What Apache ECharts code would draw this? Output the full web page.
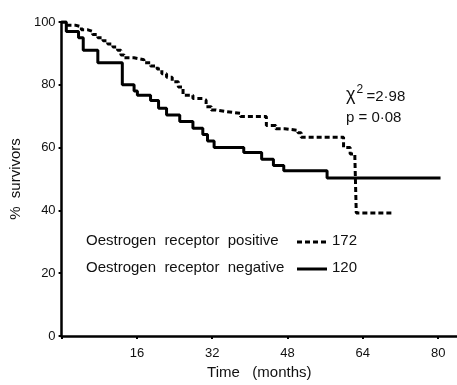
<!DOCTYPE html>
<html><head><meta charset="utf-8">
<script src="https://cdn.jsdelivr.net/npm/echarts@6/dist/echarts.min.js"></script>
<style>html,body{margin:0;padding:0;background:#fff}#c{width:457px;height:385px}</style>
</head><body><div id="c"></div>
<script>
// Kaplan-Meier survival data (months, % survivors)
const negTime = [0, 1.0, 3.6, 4.6, 7.7, 12.9, 15.4, 16.1, 18.9, 20.6, 22.3, 25.1, 27.9, 30.0, 31.0, 32.4, 38.7, 42.5, 45.0, 47.2, 56.4, 80.5];
const negValue = [100, 97, 95, 91, 87, 80, 78, 76.7, 75, 72.5, 70.4, 68.3, 66.2, 64.2, 62.1, 60, 58.4, 56.3, 54.3, 52.6, 50.3, 50.3];
const posTime = [0, 1.1, 2.9, 4.2, 5.6, 6.6, 7.7, 8.8, 9.8, 10.9, 11.9, 12.6, 13.3, 15.4, 17.5, 18.9, 20.3, 21.3, 22.3, 23.5, 24.8, 25.8, 27.9, 30.0, 30.7, 31.8, 32.8, 34.9, 38.0, 43.5, 45.5, 47.4, 50.2, 50.9, 59.9, 61.3, 62.3, 62.6, 70.7];
const posValue = [100, 99, 98.5, 97.5, 97, 96, 95, 94, 93, 92, 91, 89.5, 88.6, 88, 87, 86, 85, 83.5, 82.4, 81, 79.3, 76.7, 75.6, 75.1, 73, 72, 71.5, 70.9, 69.9, 67, 66, 65.5, 64.7, 63.3, 60, 58, 57, 39.2, 39.2];
const xTicks = [16, 32, 48, 64, 80];
const yTicks = [0, 20, 40, 60, 80, 100];
const legendLabels = ['Oestrogen  receptor  positive', 'Oestrogen  receptor  negative'];
const legendCounts = ['172', '120'];
const statLines = ['2', '=2·98', 'p = 0·08'];

const font = 'Liberation Sans';
const chart = echarts.init(document.getElementById('c'), null, {renderer: 'canvas'});
const zip = (t, v) => t.map((x, i) => [x, v[i]]);
chart.setOption({
  animation: false,
  backgroundColor: '#fff',
  grid: {left: 56, right: 0, top: 22, bottom: 43, containLabel: false},
  xAxis: {
    type: 'value', min: 0, max: 84, interval: 16,
    name: 'Time   (months)', nameLocation: 'middle', nameGap: 29,
    nameTextStyle: {fontFamily: font, fontSize: 15, color: '#111'},
    axisLine: {lineStyle: {color: '#000', width: 2.5}},
    axisTick: {show: true, length: 3, lineStyle: {color: '#000', width: 2}, inside: false},
    axisLabel: {fontFamily: font, fontSize: 13, color: '#111', margin: 11, showMaxLabel: false,
      formatter: v => xTicks.includes(v) ? String(v) : ''},
    splitLine: {show: false}
  },
  yAxis: {
    type: 'value', min: 0, max: 100, interval: 20,
    name: '%  survivors', nameLocation: 'middle', nameGap: 37,
    nameTextStyle: {fontFamily: font, fontSize: 15, color: '#111'},
    axisLine: {show: true, lineStyle: {color: '#000', width: 2.5}},
    axisTick: {show: true, length: 3, lineStyle: {color: '#000', width: 2}},
    axisLabel: {fontFamily: font, fontSize: 13, color: '#111', margin: 6,
      formatter: v => yTicks.includes(v) ? String(v) : ''},
    splitLine: {show: false}
  },
  series: [
    {type: 'line', step: 'end', data: zip(posTime, posValue), symbol: 'none',
      lineStyle: {color: '#000', width: 3, type: [5, 3]}},
    {type: 'line', step: 'end', data: zip(negTime, negValue), symbol: 'none',
      lineStyle: {color: '#000', width: 3}}
  ],
  graphic: [
    {type: 'text', left: 86, top: 233, style: {text: legendLabels[0], font: '15px ' + font, fill: '#111'}},
    {type: 'text', left: 86, top: 260, style: {text: legendLabels[1], font: '15px ' + font, fill: '#111'}},
    {type: 'line', shape: {x1: 297, y1: 242, x2: 326, y2: 242}, style: {stroke: '#000', lineWidth: 3, lineDash: [5, 3]}},
    {type: 'line', shape: {x1: 297, y1: 269, x2: 327, y2: 269}, style: {stroke: '#000', lineWidth: 3}},
    {type: 'text', left: 332, top: 233, style: {text: legendCounts[0], font: '15px ' + font, fill: '#111'}},
    {type: 'text', left: 332, top: 260, style: {text: legendCounts[1], font: '15px ' + font, fill: '#111'}},
    {type: 'text', left: 346, top: 84, style: {
      text: '{a|χ}{s|' + statLines[0] + '} {b|' + statLines[1] + '}',
      rich: {a: {font: '18px ' + font, fill: '#111', verticalAlign: 'bottom'},
             s: {font: '12px ' + font, fill: '#111', verticalAlign: 'top', padding: [0, 0, 8, 1]},
             b: {font: '15px ' + font, fill: '#111', verticalAlign: 'bottom'}}}},
    {type: 'text', left: 346, top: 110, style: {text: statLines[2], font: '15px ' + font, fill: '#111'}}
  ]
});
</script></body></html>
